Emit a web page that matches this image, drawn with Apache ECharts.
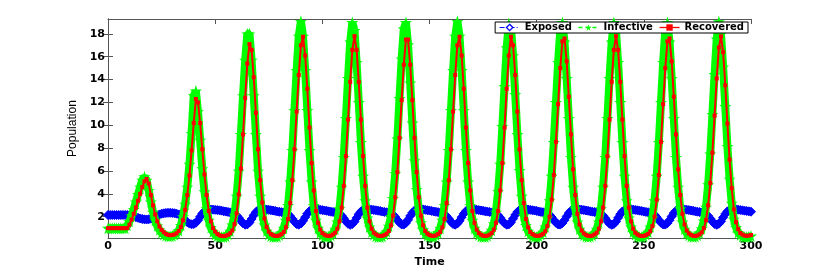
<!DOCTYPE html>
<html><head><meta charset="utf-8">
<script src="https://cdn.jsdelivr.net/npm/echarts@6/dist/echarts.min.js"></script>
<style>html,body{margin:0;padding:0;background:#fff}#c{width:830px;height:273px}</style>
</head><body><div id="c"></div>
<script>
// time grid: t = 0, 1, 2, ... 300
const timeStart = 0, timeStep = 1;

const exposed = [
2.15,2.15,2.15,2.15,2.15,2.15,2.15,2.15,2.15,2.15,
2.12,2.08,2.02,1.96,1.9,1.85,1.8,1.77,1.76,1.78,
1.83,1.92,2.02,2.12,2.2,2.26,2.3,2.33,2.34,2.34,
2.33,2.31,2.27,2.2,2.08,1.9,1.7,1.52,1.4,1.34,
1.36,1.47,1.7,2.0,2.28,2.48,2.58,2.62,2.63,2.62,
2.6,2.58,2.56,2.53,2.48,2.45,2.42,2.38,2.33,2.25,
2.1,1.9,1.65,1.42,1.3,1.33,1.5,1.8,2.13,2.4,
2.57,2.65,2.67,2.66,2.63,2.6,2.57,2.54,2.51,2.46,
2.43,2.4,2.36,2.31,2.22,2.05,1.82,1.56,1.36,1.3,
1.4,1.64,1.96,2.27,2.49,2.61,2.66,2.67,2.64,2.61,
2.58,2.55,2.52,2.47,2.44,2.41,2.37,2.32,2.25,2.1,
1.87,1.6,1.38,1.29,1.36,1.57,1.9,2.22,2.46,2.6,
2.66,2.67,2.65,2.62,2.59,2.56,2.53,2.5,2.45,2.42,
2.39,2.35,2.29,2.18,1.98,1.73,1.48,1.32,1.31,1.45,
1.73,2.07,2.35,2.54,2.64,2.67,2.66,2.64,2.6,2.57,
2.54,2.51,2.46,2.43,2.4,2.36,2.31,2.22,2.05,1.82,
1.56,1.36,1.3,1.4,1.64,1.96,2.27,2.49,2.61,2.66,
2.67,2.64,2.61,2.58,2.55,2.52,2.47,2.45,2.42,2.38,
2.33,2.26,2.13,1.92,1.65,1.42,1.3,1.33,1.52,1.83,
2.16,2.42,2.58,2.65,2.67,2.66,2.63,2.6,2.57,2.54,
2.51,2.45,2.42,2.39,2.35,2.29,2.17,1.96,1.71,1.47,
1.33,1.31,1.44,1.7,2.03,2.32,2.52,2.63,2.67,2.66,
2.64,2.61,2.58,2.55,2.52,2.47,2.44,2.41,2.37,2.32,
2.25,2.1,1.87,1.6,1.38,1.29,1.36,1.57,1.9,2.22,
2.46,2.6,2.66,2.67,2.65,2.62,2.59,2.56,2.53,2.5,
2.45,2.42,2.39,2.35,2.29,2.17,1.96,1.71,1.47,1.33,
1.31,1.44,1.7,2.03,2.32,2.52,2.63,2.67,2.66,2.64,
2.61,2.58,2.55,2.52,2.47,2.44,2.41,2.37,2.31,2.23,
2.07,1.84,1.58,1.37,1.29,1.38,1.6,1.93,2.24,2.47,
2.6,2.66,2.67,2.65,2.62,2.59,2.56,2.53,2.5,2.47,
2.44
];

const infective = [
1,1,1,1,1,1,1,1,1,1.25,
1.6,2.1,2.65,3.3,3.95,4.6,5.2,5.5,5.2,4.3,
3.3,2.4,1.7,1.2,0.85,0.6,0.45,0.35,0.3,0.3,
0.33,0.42,0.56,0.8,1.25,2.0,3.1,4.6,6.6,9.3,
12.6,13.0,11.2,8.7,6.2,4.2,2.7,1.7,1.05,0.68,
0.45,0.32,0.26,0.23,0.22,0.3,0.47,0.75,1.28,2.15,
3.8,6.0,9.2,12.6,15.7,18.0,18.0,15.7,12.6,9.2,
6.0,3.8,2.15,1.28,0.75,0.47,0.32,0.24,0.22,0.27,
0.4,0.6,1.0,1.7,3.0,5.05,7.8,11.3,14.8,17.8,
19.1,17.8,14.8,11.3,7.8,5.05,3.0,1.7,1.0,0.6,
0.4,0.27,0.22,0.26,0.37,0.56,0.92,1.55,2.7,4.6,
7.2,10.6,14.1,17.3,19.0,18.3,15.5,12.0,8.5,5.55,
3.4,1.9,1.12,0.66,0.44,0.3,0.23,0.23,0.3,0.46,
0.7,1.18,2.0,3.6,5.8,8.8,12.35,15.8,18.45,19.0,
17.05,13.7,10.2,6.9,4.4,2.55,1.48,0.87,0.56,0.36,
0.26,0.22,0.27,0.4,0.6,1.0,1.7,3.0,5.05,7.8,
11.3,14.8,17.8,19.1,17.8,14.8,11.3,7.8,5.05,3.0,
1.7,1.0,0.6,0.4,0.27,0.22,0.25,0.34,0.52,0.82,
1.4,2.4,4.2,6.6,9.9,13.4,16.8,18.9,18.6,16.1,
12.7,9.2,6.05,3.8,2.1,1.25,0.74,0.48,0.32,0.24,
0.23,0.3,0.44,0.66,1.12,1.9,3.4,5.55,8.5,12.0,
15.5,18.3,19.0,17.3,14.1,10.6,7.2,4.6,2.7,1.55,
0.92,0.56,0.37,0.26,0.22,0.26,0.37,0.56,0.92,1.55,
2.7,4.6,7.2,10.6,14.1,17.3,19.0,18.3,15.5,12.0,
8.5,5.55,3.4,1.9,1.12,0.66,0.44,0.3,0.23,0.23,
0.3,0.44,0.66,1.12,1.9,3.4,5.55,8.5,12.0,15.5,
18.3,19.0,17.3,14.1,10.6,7.2,4.6,2.7,1.55,0.92,
0.56,0.37,0.26,0.22,0.26,0.38,0.58,0.96,1.63,2.85,
4.8,7.5,10.95,14.45,17.55,19.08,18.0,15.1,11.65,8.15,
5.3,3.2,1.8,1.06,0.63,0.42,0.28,0.23,0.22,0.25,
0.32
];

const recovered = [
1,1,1,1,1,1,1,1,1,1,
1.3,1.75,2.25,2.8,3.4,4.0,4.6,5.1,5.3,4.9,
3.9,3.0,2.2,1.6,1.15,0.85,0.65,0.5,0.42,0.38,
0.4,0.45,0.55,0.75,1.1,1.7,2.6,3.9,5.6,7.8,
10.2,12.3,12.0,10.2,7.9,5.7,3.9,2.5,1.6,1.0,
0.7,0.5,0.38,0.32,0.3,0.34,0.42,0.55,0.8,1.35,
2.3,3.95,6.2,9.2,12.4,15.4,17.1,16.6,14.2,11.1,
7.9,5.2,3.25,1.85,1.1,0.69,0.48,0.38,0.32,0.32,
0.37,0.48,0.66,1.07,1.8,3.2,5.2,7.9,11.2,14.4,
17.0,17.75,16.1,13.2,9.8,6.7,4.3,2.5,1.47,0.87,
0.57,0.43,0.34,0.31,0.35,0.45,0.6,0.95,1.6,2.8,
4.7,7.3,10.5,13.8,16.6,17.8,16.6,13.8,10.5,7.3,
4.7,2.8,1.6,0.95,0.6,0.45,0.35,0.31,0.33,0.4,
0.52,0.75,1.25,2.1,3.7,5.9,8.9,12.2,15.3,17.5,
17.5,15.3,12.2,8.9,5.9,3.7,2.1,1.25,0.75,0.52,
0.4,0.33,0.32,0.37,0.48,0.66,1.07,1.8,3.2,5.2,
7.9,11.2,14.4,17.0,17.75,16.1,13.2,9.8,6.7,4.3,
2.5,1.47,0.87,0.57,0.43,0.34,0.31,0.34,0.43,0.57,
0.87,1.47,2.5,4.3,6.7,9.8,13.2,16.1,17.75,17.0,
14.4,11.2,7.9,5.2,3.2,1.8,1.07,0.66,0.48,0.37,
0.32,0.33,0.39,0.5,0.72,1.18,2.0,3.5,5.65,8.55,
11.85,15.0,17.35,17.6,15.6,12.5,9.2,6.15,3.9,2.25,
1.32,0.79,0.54,0.41,0.33,0.31,0.35,0.45,0.6,0.95,
1.6,2.8,4.7,7.3,10.5,13.8,16.6,17.8,16.6,13.8,
10.5,7.3,4.7,2.8,1.6,0.95,0.6,0.45,0.35,0.31,
0.33,0.39,0.5,0.72,1.18,2.0,3.5,5.65,8.55,11.85,
15.0,17.35,17.6,15.6,12.5,9.2,6.15,3.9,2.25,1.32,
0.79,0.54,0.41,0.33,0.31,0.36,0.46,0.63,1.0,1.7,
3.0,4.95,7.6,10.85,14.1,16.8,17.78,16.4,13.5,10.15,
7.0,4.5,2.65,1.53,0.91,0.58,0.44,0.35,0.32,0.35,
0.4
];

const seriesNames = ['Exposed', 'Infective', 'Recovered'];
const xTicks = [0, 50, 100, 150, 200, 250, 300];
const yTicks = [2, 4, 6, 8, 10, 12, 14, 16, 18];
const xRange = [0, 300];
const yRange = [0.13, 19.3];

const pairs = arr => arr.map((v, i) => [timeStart + i * timeStep, v]);
const starPath = 'path://M50,0 L61,35 L98,35 L68,57 L79,91 L50,70 L21,91 L32,57 L2,35 L39,35 Z';
const BLUE = '#0000ff', GREEN = '#00ff00', RED = '#ff0000';
const tickFont = { color: '#000', fontFamily: 'DejaVu Sans', fontWeight: 'bold', fontSize: 11 };
const frame = { show: true, lineStyle: { color: '#555', width: 1 } };

const chart = echarts.init(document.getElementById('c'), null, { renderer: 'canvas' });
chart.setOption({
  animation: false,
  backgroundColor: '#fff',
  grid: { left: 108, top: 19, right: 79, bottom: 31, containLabel: false },
  legend: {
    right: 82, top: 22, orient: 'horizontal',
    padding: [0, 4, 0, 4], itemGap: 6, itemWidth: 20, itemHeight: 8,
    backgroundColor: '#fff', borderColor: '#000', borderWidth: 1,
    textStyle: { color: '#000', fontFamily: 'DejaVu Sans', fontWeight: 'bold', fontSize: 10, lineHeight: 11 },
    data: [
      { name: seriesNames[0], itemStyle: { color: '#fff', borderColor: BLUE, borderWidth: 1.3 }, lineStyle: { color: BLUE, width: 1, type: [5, 2, 1, 2] } },
      { name: seriesNames[1], itemStyle: { color: GREEN }, lineStyle: { color: GREEN, width: 1.3, type: [4, 3] } },
      { name: seriesNames[2], itemStyle: { color: RED }, lineStyle: { color: RED, width: 1.3, type: 'solid' } }
    ]
  },
  xAxis: [
    { type: 'value', position: 'bottom', min: xRange[0], max: xRange[1], interval: 50,
      axisLine: frame, splitLine: { show: false },
      axisTick: { inside: true, length: 5, lineStyle: { color: '#555' } },
      axisLabel: Object.assign({ margin: 3, customValues: xTicks }, tickFont),
      name: 'Time', nameLocation: 'middle', nameGap: 11,
      nameTextStyle: { color: '#000', fontFamily: 'DejaVu Sans', fontWeight: 'bold', fontSize: 11 } },
    { type: 'value', position: 'top', min: xRange[0], max: xRange[1], interval: 50,
      axisLine: frame, splitLine: { show: false },
      axisTick: { inside: true, length: 5, lineStyle: { color: '#555' } },
      axisLabel: { show: false } }
  ],
  yAxis: [
    { type: 'value', position: 'left', min: yRange[0], max: yRange[1],
      axisLine: frame, splitLine: { show: false },
      axisTick: { inside: true, length: 5, customValues: yTicks, lineStyle: { color: '#555' } },
      axisLabel: Object.assign({ margin: 3, customValues: yTicks }, tickFont),
      name: 'Population', nameLocation: 'middle', nameGap: 26, nameRotate: 90,
      nameTextStyle: { color: '#000', fontFamily: 'Liberation Sans Narrow, Arial Narrow, Liberation Sans, sans-serif', fontSize: 12 } },
    { type: 'value', position: 'right', min: yRange[0], max: yRange[1],
      axisLine: frame, splitLine: { show: false },
      axisTick: { inside: true, length: 5, customValues: yTicks, lineStyle: { color: '#555' } },
      axisLabel: { show: false } }
  ],
  series: [
    { name: 'ExposedBand', type: 'line', data: pairs(exposed), clip: false, z: 2, silent: true,
      symbol: 'none', lineStyle: { color: BLUE, width: 6 } },
    { name: seriesNames[0], type: 'line', data: pairs(exposed), clip: false, z: 2,
      symbol: 'diamond', symbolSize: 9, showAllSymbol: true,
      itemStyle: { color: BLUE, borderColor: BLUE, borderWidth: 1 },
      lineStyle: { color: BLUE, width: 1, type: [5, 2, 1, 2] } },
    { name: 'InfectiveBand', type: 'line', data: pairs(infective), clip: false, z: 3, silent: true,
      symbol: 'none', lineStyle: { color: GREEN, width: 8 } },
    { name: seriesNames[1], type: 'line', data: pairs(infective), clip: false, z: 3,
      symbol: starPath, symbolSize: 12, showAllSymbol: true,
      itemStyle: { color: GREEN },
      lineStyle: { color: GREEN, width: 1, type: [4, 3] } },
    { name: seriesNames[2], type: 'line', data: pairs(recovered), clip: false, z: 4,
      symbol: 'rect', symbolSize: 4, showAllSymbol: true,
      itemStyle: { color: RED },
      lineStyle: { color: RED, width: 2 } }
  ]
});
</script>
</body></html>
